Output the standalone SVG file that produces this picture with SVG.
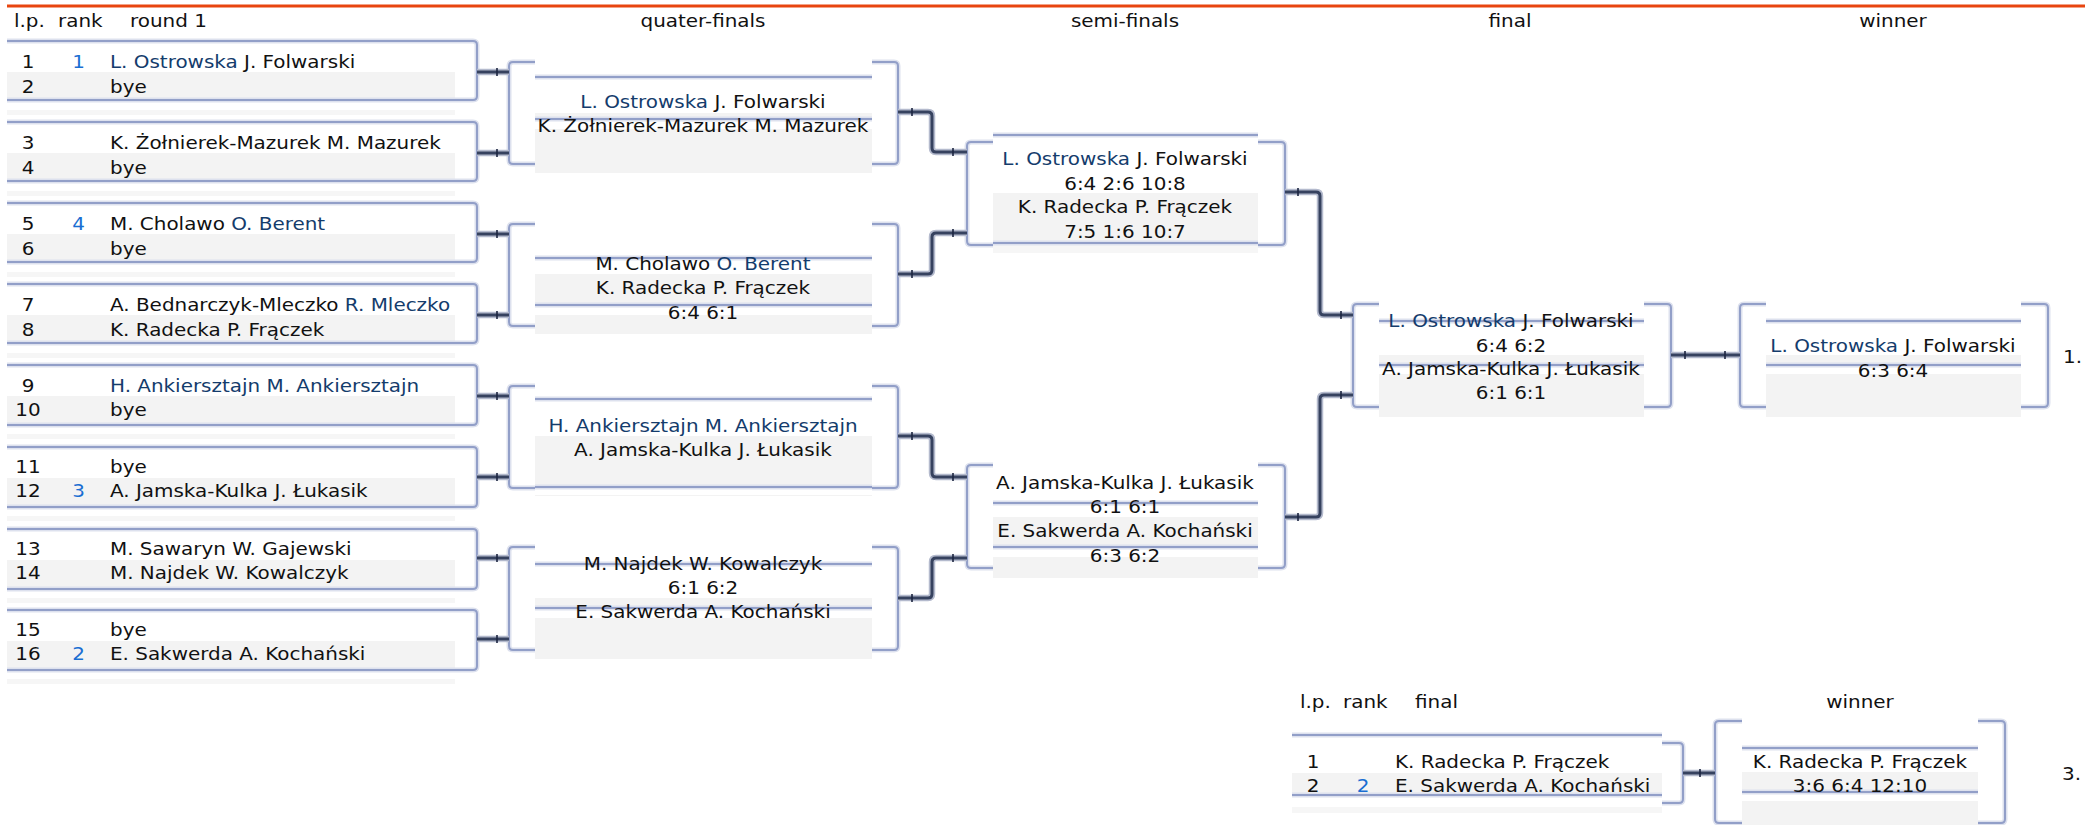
<svg xmlns="http://www.w3.org/2000/svg" width="2085" height="825" viewBox="0 0 2085 825">
<style>
.t{font-family:"DejaVu Sans",Verdana,sans-serif;font-size:18.3px;fill:#111;transform:scaleX(1.09);transform-box:fill-box;transform-origin:0 0}
.c{text-anchor:middle;transform-origin:50% 0}
.nv{fill:#143c6c}
.rk{fill:#1a6ed2}
.g{fill:#f3f3f3}
.w{fill:#fff}
.lb{fill:#f6f6f6}
.h{fill:none;stroke:#dde1ee;stroke-width:5}
.l{fill:none;stroke:#929fc8;stroke-width:2}
.cnh{fill:none;stroke:#b4bacd;stroke-width:6.5;stroke-linejoin:round}
.cn{fill:none;stroke:#36425f;stroke-width:3;stroke-linejoin:round}
.tk{stroke:#1c2540;stroke-width:1.6}
</style>
<rect width="2085" height="825" fill="#fff"/>

<g id="header">
<rect x="7" y="4.5" width="2078" height="3" fill="#e8450f"/>
<text class="t" x="14" y="27">l.p.</text>
<text class="t" x="58" y="27">rank</text>
<text class="t" x="130" y="27">round 1</text>
<text class="t c" x="703" y="27">quater-finals</text>
<text class="t c" x="1125" y="27">semi-finals</text>
<text class="t c" x="1510" y="27">final</text>
<text class="t c" x="1893" y="27">winner</text>
</g>

<g id="r1-m1">
<rect class="g" x="7" y="72" width="448" height="27"/><rect class="lb" x="7" y="110" width="448" height="5"/>
<path class="h" d="M7,41 H473 q4,0 4,4 V96 q0,4 -4,4 H7"/><path class="l" d="M7,41 H473 q4,0 4,4 V96 q0,4 -4,4 H7"/>
<text class="t c" x="28" y="68">1</text><text class="t c rk" x="78.5" y="68">1</text><text class="t" x="110" y="68"><tspan class="nv">L. Ostrowska</tspan> J. Folwarski</text>
<text class="t c" x="28" y="93">2</text><text class="t" x="110" y="93">bye</text>
</g>
<g id="r1-m2">
<rect class="g" x="7" y="153" width="448" height="27"/><rect class="lb" x="7" y="191" width="448" height="5"/>
<path class="h" d="M7,122 H473 q4,0 4,4 V177 q0,4 -4,4 H7"/><path class="l" d="M7,122 H473 q4,0 4,4 V177 q0,4 -4,4 H7"/>
<text class="t c" x="28" y="149">3</text><text class="t" x="110" y="149">K. Żołnierek-Mazurek M. Mazurek</text>
<text class="t c" x="28" y="174">4</text><text class="t" x="110" y="174">bye</text>
</g>
<g id="r1-m3">
<rect class="g" x="7" y="234" width="448" height="27"/><rect class="lb" x="7" y="272" width="448" height="5"/>
<path class="h" d="M7,203 H473 q4,0 4,4 V258 q0,4 -4,4 H7"/><path class="l" d="M7,203 H473 q4,0 4,4 V258 q0,4 -4,4 H7"/>
<text class="t c" x="28" y="230">5</text><text class="t c rk" x="78.5" y="230">4</text><text class="t" x="110" y="230">M. Cholawo <tspan class="nv">O. Berent</tspan></text>
<text class="t c" x="28" y="255">6</text><text class="t" x="110" y="255">bye</text>
</g>
<g id="r1-m4">
<rect class="g" x="7" y="315" width="448" height="27"/><rect class="lb" x="7" y="353" width="448" height="5"/>
<path class="h" d="M7,284 H473 q4,0 4,4 V339 q0,4 -4,4 H7"/><path class="l" d="M7,284 H473 q4,0 4,4 V339 q0,4 -4,4 H7"/>
<text class="t c" x="28" y="311">7</text><text class="t" x="110" y="311">A. Bednarczyk-Mleczko <tspan class="nv">R. Mleczko</tspan></text>
<text class="t c" x="28" y="336">8</text><text class="t" x="110" y="336">K. Radecka P. Frączek</text>
</g>
<g id="r1-m5">
<rect class="g" x="7" y="396" width="448" height="28"/><rect class="lb" x="7" y="434" width="448" height="5"/>
<path class="h" d="M7,365 H473 q4,0 4,4 V421 q0,4 -4,4 H7"/><path class="l" d="M7,365 H473 q4,0 4,4 V421 q0,4 -4,4 H7"/>
<text class="t c" x="28" y="392">9</text><text class="t nv" x="110" y="392">H. Ankiersztajn M. Ankiersztajn</text>
<text class="t c" x="28" y="416">10</text><text class="t" x="110" y="416">bye</text>
</g>
<g id="r1-m6">
<rect class="g" x="7" y="478" width="448" height="29"/><rect class="lb" x="7" y="516" width="448" height="5"/>
<path class="h" d="M7,447 H473 q4,0 4,4 V503 q0,4 -4,4 H7"/><path class="l" d="M7,447 H473 q4,0 4,4 V503 q0,4 -4,4 H7"/>
<text class="t c" x="28" y="473">11</text><text class="t" x="110" y="473">bye</text>
<text class="t c" x="28" y="497">12</text><text class="t c rk" x="78.5" y="497">3</text><text class="t" x="110" y="497">A. Jamska-Kulka J. Łukasik</text>
</g>
<g id="r1-m7">
<rect class="g" x="7" y="560" width="448" height="29"/><rect class="lb" x="7" y="598" width="448" height="5"/>
<path class="h" d="M7,529 H473 q4,0 4,4 V585 q0,4 -4,4 H7"/><path class="l" d="M7,529 H473 q4,0 4,4 V585 q0,4 -4,4 H7"/>
<text class="t c" x="28" y="555">13</text><text class="t" x="110" y="555">M. Sawaryn W. Gajewski</text>
<text class="t c" x="28" y="579">14</text><text class="t" x="110" y="579">M. Najdek W. Kowalczyk</text>
</g>
<g id="r1-m8">
<rect class="g" x="7" y="641" width="448" height="29"/><rect class="lb" x="7" y="679" width="448" height="5"/>
<path class="h" d="M7,610 H473 q4,0 4,4 V666 q0,4 -4,4 H7"/><path class="l" d="M7,610 H473 q4,0 4,4 V666 q0,4 -4,4 H7"/>
<text class="t c" x="28" y="636">15</text><text class="t" x="110" y="636">bye</text>
<text class="t c" x="28" y="660">16</text><text class="t c rk" x="78.5" y="660">2</text><text class="t" x="110" y="660">E. Sakwerda A. Kochański</text>
</g>

<g id="qf1">
<rect class="g" x="535" y="113" width="337" height="60"/><rect class="w" x="535" y="121" width="337" height="8"/>
<path class="h" d="M535,77 H872 M535,119 H872 M535,62 H513 q-4,0 -4,4 V160 q0,4 4,4 H535 M872,62 H894 q4,0 4,4 V160 q0,4 -4,4 H872"/>
<path class="l" d="M535,77 H872 M535,119 H872 M535,62 H513 q-4,0 -4,4 V160 q0,4 4,4 H535 M872,62 H894 q4,0 4,4 V160 q0,4 -4,4 H872"/>
<text class="t c" x="703" y="108"><tspan class="nv">L. Ostrowska</tspan> J. Folwarski</text>
<text class="t c" x="703" y="132">K. Żołnierek-Mazurek M. Mazurek</text>
</g>
<g id="qf2">
<rect class="g" x="535" y="274" width="337" height="60"/><rect class="w" x="535" y="307" width="337" height="8"/>
<path class="h" d="M535,258 H872 M535,305 H872 M535,224 H513 q-4,0 -4,4 V322 q0,4 4,4 H535 M872,224 H894 q4,0 4,4 V322 q0,4 -4,4 H872"/>
<path class="l" d="M535,258 H872 M535,305 H872 M535,224 H513 q-4,0 -4,4 V322 q0,4 4,4 H535 M872,224 H894 q4,0 4,4 V322 q0,4 -4,4 H872"/>
<text class="t c" x="703" y="270">M. Cholawo <tspan class="nv">O. Berent</tspan></text>
<text class="t c" x="703" y="294">K. Radecka P. Frączek</text>
<text class="t c" x="703" y="319">6:4 6:1</text>
</g>
<g id="qf3">
<rect class="g" x="535" y="436" width="337" height="60"/><rect class="w" x="535" y="489" width="337" height="6"/>
<path class="h" d="M535,399 H872 M535,487 H872 M535,386 H513 q-4,0 -4,4 V484 q0,4 4,4 H535 M872,386 H894 q4,0 4,4 V484 q0,4 -4,4 H872"/>
<path class="l" d="M535,399 H872 M535,487 H872 M535,386 H513 q-4,0 -4,4 V484 q0,4 4,4 H535 M872,386 H894 q4,0 4,4 V484 q0,4 -4,4 H872"/>
<text class="t c nv" x="703" y="432">H. Ankiersztajn M. Ankiersztajn</text>
<text class="t c" x="703" y="456">A. Jamska-Kulka J. Łukasik</text>
</g>
<g id="qf4">
<rect class="g" x="535" y="598" width="337" height="61"/><rect class="w" x="535" y="610" width="337" height="8"/>
<path class="h" d="M535,564 H872 M535,608 H872 M535,547 H513 q-4,0 -4,4 V646 q0,4 4,4 H535 M872,547 H894 q4,0 4,4 V646 q0,4 -4,4 H872"/>
<path class="l" d="M535,564 H872 M535,608 H872 M535,547 H513 q-4,0 -4,4 V646 q0,4 4,4 H535 M872,547 H894 q4,0 4,4 V646 q0,4 -4,4 H872"/>
<text class="t c" x="703" y="570">M. Najdek W. Kowalczyk</text>
<text class="t c" x="703" y="594">6:1 6:2</text>
<text class="t c" x="703" y="618">E. Sakwerda A. Kochański</text>
</g>

<g id="sf1">
<rect class="g" x="993" y="193" width="265" height="50"/><rect class="lb" x="993" y="245" width="265" height="8"/>
<path class="h" d="M993,135 H1258 M993,243 H1258 M993,142 H971 q-4,0 -4,4 V241 q0,4 4,4 H993 M1258,142 H1281 q4,0 4,4 V241 q0,4 -4,4 H1258"/>
<path class="l" d="M993,135 H1258 M993,243 H1258 M993,142 H971 q-4,0 -4,4 V241 q0,4 4,4 H993 M1258,142 H1281 q4,0 4,4 V241 q0,4 -4,4 H1258"/>
<text class="t c" x="1125" y="165"><tspan class="nv">L. Ostrowska</tspan> J. Folwarski</text>
<text class="t c" x="1125" y="190">6:4 2:6 10:8</text>
<text class="t c" x="1125" y="213">K. Radecka P. Frączek</text>
<text class="t c" x="1125" y="238">7:5 1:6 10:7</text>
</g>
<g id="sf2">
<rect class="g" x="993" y="517" width="265" height="61"/><rect class="w" x="993" y="549" width="265" height="8"/>
<path class="h" d="M993,503 H1258 M993,547 H1258 M993,465 H971 q-4,0 -4,4 V564 q0,4 4,4 H993 M1258,465 H1281 q4,0 4,4 V564 q0,4 -4,4 H1258"/>
<path class="l" d="M993,503 H1258 M993,547 H1258 M993,465 H971 q-4,0 -4,4 V564 q0,4 4,4 H993 M1258,465 H1281 q4,0 4,4 V564 q0,4 -4,4 H1258"/>
<text class="t c" x="1125" y="489">A. Jamska-Kulka J. Łukasik</text>
<text class="t c" x="1125" y="513">6:1 6:1</text>
<text class="t c" x="1125" y="537">E. Sakwerda A. Kochański</text>
<text class="t c" x="1125" y="562">6:3 6:2</text>
</g>

<g id="final">
<rect class="g" x="1379" y="355" width="265" height="62"/><rect class="w" x="1379" y="367" width="265" height="7"/>
<path class="h" d="M1379,321 H1644 M1379,365 H1644 M1379,304 H1357 q-4,0 -4,4 V403 q0,4 4,4 H1379 M1644,304 H1667 q4,0 4,4 V403 q0,4 -4,4 H1644"/>
<path class="l" d="M1379,321 H1644 M1379,365 H1644 M1379,304 H1357 q-4,0 -4,4 V403 q0,4 4,4 H1379 M1644,304 H1667 q4,0 4,4 V403 q0,4 -4,4 H1644"/>
<text class="t c" x="1511" y="327"><tspan class="nv">L. Ostrowska</tspan> J. Folwarski</text>
<text class="t c" x="1511" y="352">6:4 6:2</text>
<text class="t c" x="1511" y="375">A. Jamska-Kulka J. Łukasik</text>
<text class="t c" x="1511" y="399">6:1 6:1</text>
</g>

<g id="winner">
<rect class="g" x="1766" y="355" width="255" height="62"/><rect class="w" x="1766" y="367" width="255" height="7"/>
<path class="h" d="M1766,321 H2021 M1766,365 H2021 M1766,304 H1744 q-4,0 -4,4 V403 q0,4 4,4 H1766 M2021,304 H2044 q4,0 4,4 V403 q0,4 -4,4 H2021"/>
<path class="l" d="M1766,321 H2021 M1766,365 H2021 M1766,304 H1744 q-4,0 -4,4 V403 q0,4 4,4 H1766 M2021,304 H2044 q4,0 4,4 V403 q0,4 -4,4 H2021"/>
<text class="t c" x="1893" y="352"><tspan class="nv">L. Ostrowska</tspan> J. Folwarski</text>
<text class="t c" x="1893" y="377">6:3 6:4</text>
<text class="t" x="2063" y="363">1.</text>
</g>

<g id="third-header">
<text class="t" x="1300" y="708">l.p.</text>
<text class="t" x="1343" y="708">rank</text>
<text class="t" x="1415" y="708">final</text>
<text class="t c" x="1860" y="708">winner</text>
</g>
<g id="third-final">
<rect class="g" x="1292" y="773" width="370" height="22"/><rect class="lb" x="1292" y="807" width="370" height="6"/>
<path class="h" d="M1292,735 H1662 M1292,795 H1662 M1662,743 H1679 q4,0 4,4 V799 q0,4 -4,4 H1662"/>
<path class="l" d="M1292,735 H1662 M1292,795 H1662 M1662,743 H1679 q4,0 4,4 V799 q0,4 -4,4 H1662"/>
<text class="t c" x="1313" y="768">1</text><text class="t" x="1395" y="768">K. Radecka P. Frączek</text>
<text class="t c" x="1313" y="792">2</text><text class="t c rk" x="1363" y="792">2</text><text class="t" x="1395" y="792">E. Sakwerda A. Kochański</text>
</g>
<g id="third-winner">
<rect class="g" x="1742" y="772" width="236" height="53"/><rect class="w" x="1742" y="794" width="236" height="7"/>
<path class="h" d="M1742,748 H1978 M1742,792 H1978 M1742,721 H1719 q-4,0 -4,4 V819 q0,4 4,4 H1742 M1978,721 H2001 q4,0 4,4 V819 q0,4 -4,4 H1978"/>
<path class="l" d="M1742,748 H1978 M1742,792 H1978 M1742,721 H1719 q-4,0 -4,4 V819 q0,4 4,4 H1742 M1978,721 H2001 q4,0 4,4 V819 q0,4 -4,4 H1978"/>
<text class="t c" x="1860" y="768">K. Radecka P. Frączek</text>
<text class="t c" x="1860" y="792">3:6 6:4 12:10</text>
<text class="t" x="2062" y="780">3.</text>
</g>

<g id="connectors">
<path class="cnh" d="M477,72 H509 M477,153 H509 M477,234 H509 M477,315 H509 M477,396 H509 M477,477 H509 M477,558 H509 M477,639 H509 M898,112 H928 q4,0 4,4 V148 q0,4 4,4 H967 M898,274 H928 q4,0 4,-4 V237 q0,-4 4,-4 H967 M898,436 H928 q4,0 4,4 V473 q0,4 4,4 H967 M898,598 H928 q4,0 4,-4 V562 q0,-4 4,-4 H967 M1285,192 H1316 q4,0 4,4 V311 q0,4 4,4 H1353 M1285,517 H1316 q4,0 4,-4 V399 q0,-4 4,-4 H1353 M1671,355 H1740 M1683,773 H1715"/>
<path class="cn" d="M477,72 H509 M477,153 H509 M477,234 H509 M477,315 H509 M477,396 H509 M477,477 H509 M477,558 H509 M477,639 H509 M898,112 H928 q4,0 4,4 V148 q0,4 4,4 H967 M898,274 H928 q4,0 4,-4 V237 q0,-4 4,-4 H967 M898,436 H928 q4,0 4,4 V473 q0,4 4,4 H967 M898,598 H928 q4,0 4,-4 V562 q0,-4 4,-4 H967 M1285,192 H1316 q4,0 4,4 V311 q0,4 4,4 H1353 M1285,517 H1316 q4,0 4,-4 V399 q0,-4 4,-4 H1353 M1671,355 H1740 M1683,773 H1715"/>
<path class="tk" d="M497,68 V76 M497,149 V157 M497,230 V238 M497,311 V319 M497,392 V400 M497,473 V481 M497,554 V562 M497,635 V643 M912,108 V116 M953,148 V156 M912,270 V278 M953,229 V237 M912,432 V440 M953,473 V481 M912,594 V602 M953,554 V562 M1298,188 V196 M1341,311 V319 M1298,513 V521 M1341,391 V399 M1685,351 V359 M1725,351 V359 M1700,769 V777"/>
</g>
</svg>
